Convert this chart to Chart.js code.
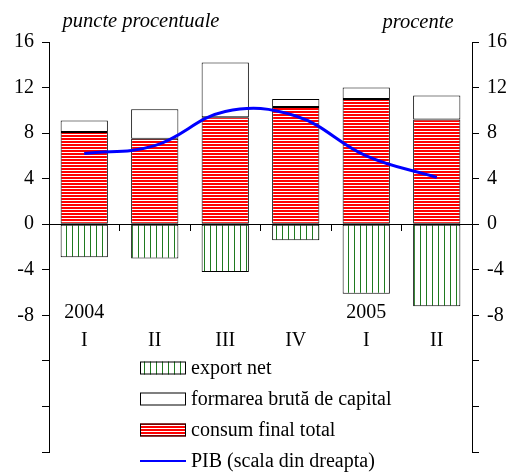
<!DOCTYPE html>
<html>
<head>
<meta charset="utf-8">
<script src="https://cdn.jsdelivr.net/npm/chart.js@4/dist/chart.umd.min.js"></script>
<style>
  html, body { margin: 0; padding: 0; background: #fff; }
  #wrap { width: 508px; height: 472px; }
</style>
</head>
<body>
<div id="wrap"><canvas id="myChart" width="508" height="472"></canvas></div>
<script>
const quarters = ['I', 'II', 'III', 'IV', 'I', 'II'];
const years = ['2004', '', '', '', '2005', ''];
const consumFinal = [8.1, 7.5, 9.4, 10.3, 11.0, 9.2];
const formareBruta = [1.0, 2.6, 4.8, 0.7, 1.0, 2.1];
const exportNet = [-2.9, -3.0, -4.2, -1.4, -6.1, -7.2];
const pib = [6.2, 6.9, 9.9, 9.5, 6.0, 4.1];
const axisMin = -20, axisMax = 16, axisStep = 4, lowestLabel = -8;

const serif = "'Liberation Serif', 'Times New Roman', serif";

// fill patterns: red horizontal stripes, green vertical hatch
function stripes() {
  const c = document.createElement('canvas');
  c.width = 4; c.height = 3;
  const g = c.getContext('2d');
  g.fillStyle = '#fff'; g.fillRect(0, 0, 4, 3);
  g.fillStyle = '#ff0000'; g.fillRect(0, 0, 4, 2);
  return g.createPattern(c, 'repeat');
}
function hatch() {
  const c = document.createElement('canvas');
  c.width = 6; c.height = 4;
  const g = c.getContext('2d');
  g.fillStyle = '#fff'; g.fillRect(0, 0, 6, 4);
  g.fillStyle = '#1f7a1f'; g.fillRect(0, 0, 1, 4);
  return g.createPattern(c, 'repeat');
}
const redFill = stripes();
const greenFill = hatch();

const barBase = {
  type: 'bar',
  borderColor: '#000',
  borderWidth: 1,
  borderSkipped: false,
  barPercentage: 0.67,
  categoryPercentage: 1,
  yAxisID: 'y',
  order: 1,
};

// captions, category labels and legend
const extras = {
  id: 'extras',
  afterDraw(chart) {
    const ctx = chart.ctx;
    const x = chart.scales.x, y = chart.scales.y;
    ctx.save();
    ctx.fillStyle = '#000';
    ctx.textBaseline = 'middle';

    ctx.font = 'italic 20.5px ' + serif;
    ctx.textAlign = 'center';
    ctx.fillText('puncte procentuale', 141, 22);
    ctx.fillText('procente', 418, 23);

    ctx.font = '20px ' + serif;
    const yl = y.getPixelForValue(lowestLabel);
    quarters.forEach((q, i) => {
      const px = x.getPixelForValue(i);
      if (years[i]) ctx.fillText(years[i], px, yl - 3);
      ctx.fillText(q, px, yl + 25);
    });

    // legend
    const items = [
      { text: 'export net', fill: greenFill },
      { text: 'formarea brută de capital', fill: '#fff' },
      { text: 'consum final total', fill: redFill },
      { text: 'PIB (scala din dreapta)', line: '#0000ff' },
    ];
    const lx = 140, lw = 46, lh = 13;
    let ly = 368;
    ctx.textAlign = 'left';
    ctx.font = '20px ' + serif;
    items.forEach((it) => {
      if (it.line) {
        ctx.strokeStyle = it.line;
        ctx.lineWidth = 2;
        ctx.beginPath();
        ctx.moveTo(lx, ly);
        ctx.lineTo(lx + lw, ly);
        ctx.stroke();
      } else {
        ctx.fillStyle = it.fill;
        ctx.fillRect(lx, ly - lh / 2, lw, lh);
        ctx.strokeStyle = '#000';
        ctx.lineWidth = 1;
        ctx.strokeRect(lx + 0.5, ly - lh / 2 + 0.5, lw - 1, lh - 1);
      }
      ctx.fillStyle = '#000';
      ctx.fillText(it.text, lx + lw + 5, ly + 1);
      ly += 31;
    });
    ctx.restore();
  }
};

const yAxis = (pos, width) => ({
  position: pos,
  min: axisMin,
  max: axisMax,
  stacked: pos === 'left',
  afterFit: (s) => { s.width = width; },
  border: { color: '#000', width: 1 },
  grid: { drawOnChartArea: false, color: '#000', tickLength: 7 },
  ticks: {
    stepSize: axisStep,
    padding: 8,
    color: '#000',
    font: { family: serif, size: 20 },
    callback: (v) => (v >= lowestLabel ? v : ''),
  },
});

new Chart(document.getElementById('myChart'), {
  data: {
    labels: quarters,
    datasets: [
      {
        type: 'line',
        label: 'PIB (scala din dreapta)',
        data: pib,
        yAxisID: 'y2',
        borderColor: '#0000ff',
        borderWidth: 3,
        pointRadius: 0,
        tension: 0.4,
        fill: false,
        order: 0,
      },
      { ...barBase, label: 'consum final total', data: consumFinal, backgroundColor: redFill },
      { ...barBase, label: 'formarea brută de capital', data: formareBruta, backgroundColor: '#fff' },
      { ...barBase, label: 'export net', data: exportNet, backgroundColor: greenFill },
    ],
  },
  options: {
    responsive: false,
    animation: false,
    layout: { padding: { top: 42, bottom: 20, left: 0, right: 0 } },
    plugins: { legend: { display: false }, tooltip: { enabled: false } },
    scales: {
      x: {
        stacked: true,
        position: { y: 0 },
        offset: true,
        border: { color: '#000', width: 1 },
        grid: { drawOnChartArea: false, color: '#000', tickLength: 6, offset: true },
        ticks: { display: false },
      },
      y: yAxis('left', 49),
      y2: yAxis('right', 36),
    },
  },
  plugins: [extras],
});
</script>
</body>
</html>
